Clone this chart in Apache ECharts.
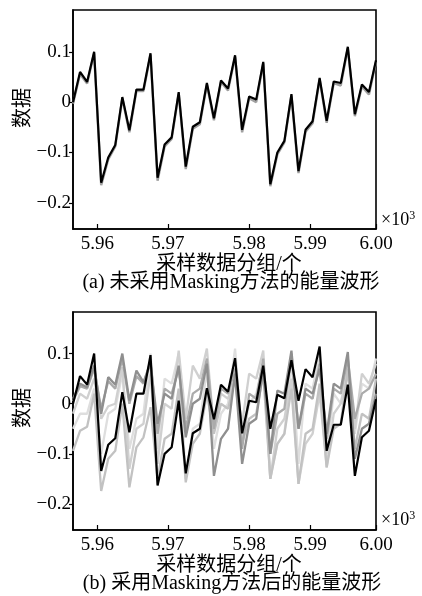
<!DOCTYPE html>
<html>
<head>
<meta charset="utf-8">
<script src="https://cdn.jsdelivr.net/npm/echarts@6/dist/echarts.min.js"></script>
<style>
  html, body { margin: 0; padding: 0; background: #fff; }
  #chart { width: 422px; height: 596px; }
</style>
</head>
<body>
<div id="chart"></div>
<script>
// 采样点序号（0..43），对应 5.957e3 ~ 6.000e3
const sampleIdx = [0,1,2,3,4,5,6,7,8,9,10,11,12,13,14,15,16,17,18,19,20,21,
  22,23,24,25,26,27,28,29,30,31,32,33,34,35,36,37,38,39,40,41,42,43];

// x 轴刻度（以采样点序号为单位）和刻度文字
const xTickAt = [3.45, 13.45, 25, 33.65, 43];
const xTickLabels = ['5.96', '5.97', '5.98', '5.99', '6.00'];
const yTicks = [-0.2, -0.1, 0, 0.1];
const yTickLabels = ['\u22120.2', '\u22120.1', '0', '0.1'];

// (a) 未采用 Masking
const rawWave = [0.0, 0.06, 0.04, 0.1, -0.16, -0.11, -0.085, 0.01, -0.056, 0.025, 0.025,
  0.097, -0.15, -0.084, -0.07, 0.02, -0.128, -0.049, -0.04, 0.038, -0.032, 0.043,
  0.027, 0.093, -0.055, 0.011, 0.005, 0.08, -0.163, -0.1, -0.077, 0.016, -0.137,
  -0.055, -0.038, 0.048, -0.037, 0.041, 0.038, 0.11, -0.024, 0.035, 0.02, 0.083];
const rawWaveShadow = [-0.003, 0.056, 0.037, 0.097, -0.165, -0.114, -0.088, 0.007, -0.06,
  0.022, 0.022, 0.094, -0.156, -0.088, -0.073, 0.017, -0.133, -0.053, -0.044, 0.035,
  -0.036, 0.04, 0.023, 0.09, -0.06, 0.008, 0.0, 0.077, -0.167, -0.104, -0.08, 0.013,
  -0.141, -0.059, -0.042, 0.045, -0.041, 0.038, 0.033, 0.107, -0.028, 0.031, 0.015, 0.08];

// (b) 采用 Masking 后
const maskWave = [0.0, 0.055, 0.038, 0.1, -0.134, -0.082, -0.069, 0.023, -0.057, 0.02, 0.02,
  0.097, -0.163, -0.1, -0.087, 0.006, -0.139, -0.059, -0.05, 0.031, -0.031, 0.038,
  0.024, 0.091, -0.059, 0.006, 0.003, 0.076, -0.05, 0.018, 0.011, 0.087, 0.006,
  0.069, 0.053, 0.114, -0.094, -0.042, -0.042, 0.038, -0.144, -0.067, -0.054, 0.009];
const maskA = [0.01, 0.04, 0.033, 0.076, -0.02, 0.053, 0.038, 0.1, 0.006, 0.066, 0.043, 0.08,
  -0.04, 0.02, 0.01, 0.076, -0.067, 0.0, 0.01, 0.08, -0.144, -0.07, -0.05, 0.06,
  -0.12, -0.04, -0.03, 0.07, -0.1, 0.026, 0.02, 0.106, -0.05, 0.03, 0.02, 0.07,
  -0.06, 0.04, 0.03, 0.103, -0.11, -0.05, -0.04, 0.02];
const maskB = [0.005, 0.035, 0.03, 0.07, -0.01, 0.045, 0.03, 0.09, 0.0, 0.055, 0.04, 0.085,
  -0.06, 0.03, 0.02, 0.07, -0.05, 0.02, 0.03, 0.09, -0.05, 0.03, 0.02, 0.07,
  -0.09, 0.02, 0.01, 0.09, -0.1, -0.02, -0.01, 0.1, -0.05, 0.02, 0.01, 0.08,
  -0.07, 0.03, 0.02, 0.09, -0.03, 0.02, 0.03, 0.06];
const maskC = [-0.094, -0.054, -0.046, 0.02, -0.174, -0.11, -0.094, 0.0, -0.167, -0.087, -0.067, -0.007,
  -0.15, -0.07, -0.06, 0.03, -0.157, -0.08, -0.06, 0.02, -0.06, 0.0, -0.01, 0.05,
  -0.08, -0.03, -0.02, 0.06, -0.15, -0.08, -0.06, 0.03, -0.16, -0.06, -0.05, 0.04,
  -0.127, -0.05, -0.04, 0.07, -0.09, -0.02, -0.03, 0.05];
const maskD = [-0.02, 0.02, 0.01, 0.05, -0.03, -0.005, 0.0, 0.073, -0.13, -0.05, -0.04, 0.06,
  -0.12, 0.0, -0.01, 0.106, -0.03, 0.076, 0.05, 0.11, -0.05, 0.02, 0.01, 0.05,
  -0.04, 0.06, 0.05, 0.106, -0.15, -0.05, -0.03, 0.05, -0.16, -0.08, -0.06, 0.02,
  -0.127, -0.02, 0.0, 0.06, -0.05, 0.06, 0.04, 0.08];
const maskE = [-0.05, -0.02, -0.02, 0.03, -0.1, -0.02, -0.01, 0.06, -0.09, -0.03, -0.02, 0.1,
  -0.09, 0.05, 0.04, 0.1, -0.15, -0.05, -0.04, 0.07, -0.09, -0.02, 0.0, 0.11,
  -0.07, 0.0, 0.02, 0.08, -0.15, -0.08, -0.06, 0.09, -0.12, 0.04, 0.03, 0.1,
  -0.1, 0.02, 0.0, 0.08, -0.06, 0.04, 0.03, 0.09];

const serif = '"Liberation Serif", "Noto Sans CJK SC", serif';

function nearestLabel(v, at, labels) {
  let best = 0;
  for (let i = 1; i < at.length; i++) {
    if (Math.abs(at[i] - v) < Math.abs(at[best] - v)) best = i;
  }
  return labels[best];
}

function xAxisOf(gridIndex) {
  return {
    type: 'value',
    gridIndex,
    min: 0,
    max: 43,
    axisLine: { show: true, onZero: false, lineStyle: { color: '#000', width: 1.6 } },
    axisTick: { show: true, inside: true, length: 5, customValues: xTickAt, lineStyle: { color: '#000', width: 1.2 } },
    axisLabel: {
      show: true,
      customValues: xTickAt,
      margin: 6,
      color: '#000',
      fontFamily: serif,
      fontSize: 19,
      formatter: v => nearestLabel(v, xTickAt, xTickLabels)
    },
    splitLine: { show: false }
  };
}

function yAxisOf(gridIndex) {
  return {
    type: 'value',
    gridIndex,
    min: -0.252,
    max: 0.183,
    axisLine: { show: true, lineStyle: { color: '#000', width: 1.6 } },
    axisTick: { show: true, inside: false, length: 4, customValues: yTicks, lineStyle: { color: '#000', width: 1.2 } },
    axisLabel: {
      show: true,
      customValues: yTicks,
      margin: 2,
      color: '#000',
      fontFamily: serif,
      fontSize: 19,
      formatter: v => nearestLabel(v, yTicks, yTickLabels)
    },
    splitLine: { show: false }
  };
}

function lineOf(values, color, width, axisIndex, z) {
  return {
    type: 'line',
    xAxisIndex: axisIndex,
    yAxisIndex: axisIndex,
    data: sampleIdx.map((x, i) => [x, values[i]]),
    showSymbol: false,
    symbol: 'none',
    smooth: false,
    z,
    lineStyle: { color, width },
    emphasis: { disabled: true }
  };
}

function textOf(text, x, y, size, rotation) {
  return {
    type: 'text',
    x, y,
    rotation: rotation || 0,
    style: {
      text,
      fill: '#000',
      font: size + 'px ' + serif,
      align: 'center',
      verticalAlign: 'middle'
    }
  };
}

// ×10³ 量级标注
function powerOf(x, y) {
  return {
    type: 'text',
    x, y,
    style: {
      text: '\u00d710{s|3}',
      fill: '#000',
      font: '18px ' + serif,
      align: 'left',
      verticalAlign: 'bottom',
      rich: { s: { fontSize: 12, fontFamily: serif, padding: [0, 0, 9, 0] } }
    }
  };
}

const chart = echarts.init(document.getElementById('chart'));
chart.setOption({
  animation: false,
  backgroundColor: '#fff',
  grid: [
    { left: 73, top: 10, width: 303, height: 219, show: true, borderColor: '#000', borderWidth: 1.6, containLabel: false },
    { left: 73, top: 312, width: 303, height: 218, show: true, borderColor: '#000', borderWidth: 1.6, containLabel: false }
  ],
  xAxis: [xAxisOf(0), xAxisOf(1)],
  yAxis: [yAxisOf(0), yAxisOf(1)],
  series: [
    lineOf(rawWaveShadow, '#a0a0a0', 2.4, 0, 2),
    lineOf(rawWave, '#000', 2.2, 0, 3),
    lineOf(maskE, '#dedede', 2.3, 1, 2),
    lineOf(maskD, '#d0d0d0', 2.3, 1, 2),
    lineOf(maskC, '#c2c2c2', 2.3, 1, 2),
    lineOf(maskB, '#ababab', 2.3, 1, 2),
    lineOf(maskA, '#8f8f8f', 2.3, 1, 2),
    lineOf(maskWave, '#000', 2.2, 1, 3)
  ],
  graphic: [
    textOf('数据', 24, 108, 20, Math.PI / 2),
    textOf('采样数据分组/个', 229, 265, 20),
    textOf('(a) 未采用Masking方法的能量波形', 231, 283, 20),
    powerOf(381, 231),
    textOf('数据', 24, 408, 20, Math.PI / 2),
    textOf('采样数据分组/个', 229, 566, 20),
    textOf('(b) 采用Masking方法后的能量波形', 232, 584, 20),
    powerOf(381, 531)
  ]
});
</script>
</body>
</html>
